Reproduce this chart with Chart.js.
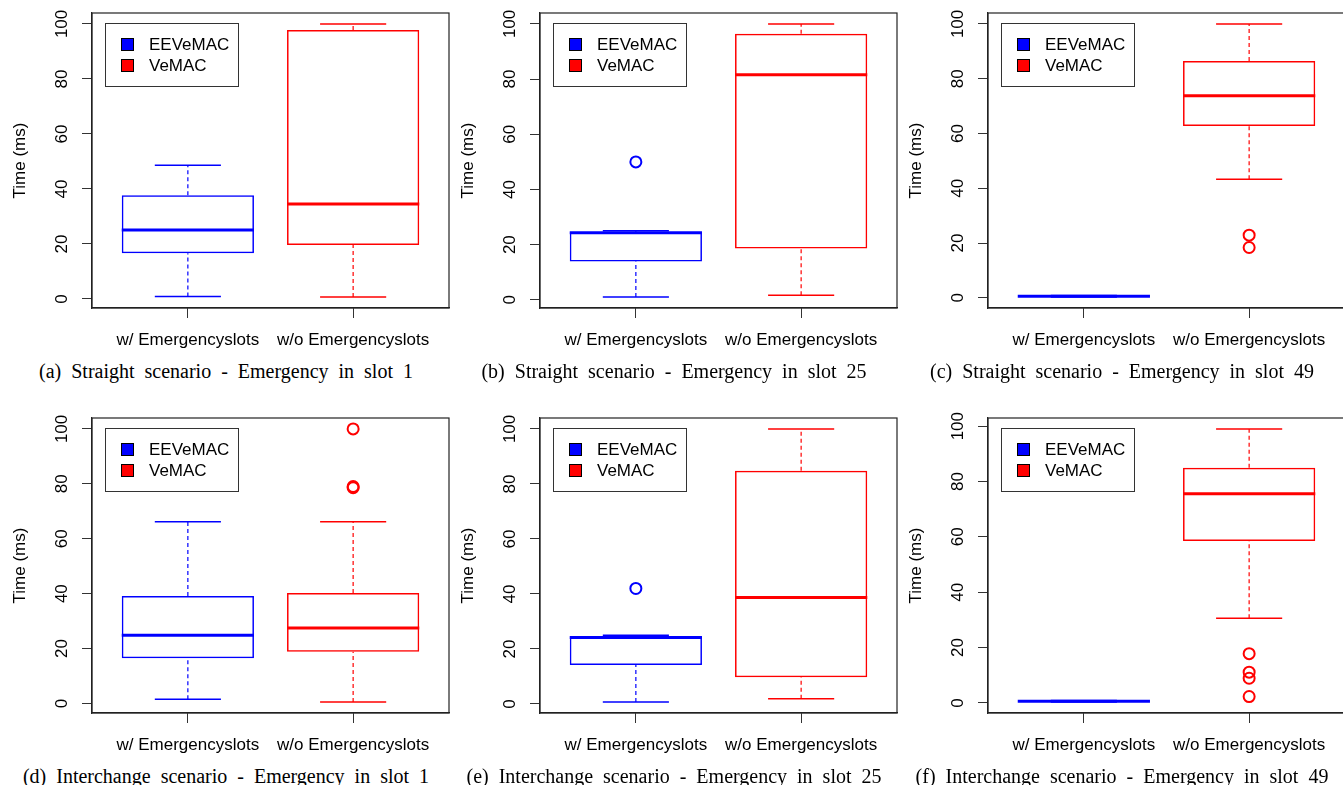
<!DOCTYPE html>
<html>
<head>
<meta charset="utf-8">
<script src="https://cdn.jsdelivr.net/npm/chart.js@4.4.1/dist/chart.umd.min.js"></script>
<style>
body { margin: 0; background: #fff; width: 1343px; height: 785px; overflow: hidden; position: relative; }
.cell { position: absolute; width: 452px; height: 405px; }
.cell canvas { display: block; }
.cap { font-family: "Liberation Serif", "Times New Roman", serif; font-size: 20px; word-spacing: 5px;
       line-height: 32px; text-align: center; white-space: nowrap; color: #000; }
</style>
</head>
<body>
<div class="cell" style="left:0;top:0"><canvas id="c0" width="450" height="355"></canvas><div class="cap" id="cap0"></div></div>
<div class="cell" style="left:448px;top:0"><canvas id="c1" width="450" height="355"></canvas><div class="cap" id="cap1"></div></div>
<div class="cell" style="left:896px;top:0"><canvas id="c2" width="450" height="355"></canvas><div class="cap" id="cap2"></div></div>
<div class="cell" style="left:0;top:405px"><canvas id="c3" width="450" height="355"></canvas><div class="cap" id="cap3"></div></div>
<div class="cell" style="left:448px;top:405px"><canvas id="c4" width="450" height="355"></canvas><div class="cap" id="cap4"></div></div>
<div class="cell" style="left:896px;top:405px"><canvas id="c5" width="450" height="355"></canvas><div class="cap" id="cap5"></div></div>
<script>
const groups = ['w/ Emergencyslots', 'w/o Emergencyslots'];
const seriesNames = ['EEVeMAC', 'VeMAC'];
const seriesColors = ['#0000ff', '#ff0000'];
const yTicks = [0, 20, 40, 60, 80, 100];
const captions = [
  '(a) Straight scenario - Emergency in slot 1',
  '(b) Straight scenario - Emergency in slot 25',
  '(c) Straight scenario - Emergency in slot 49',
  '(d) Interchange scenario - Emergency in slot 1',
  '(e) Interchange scenario - Emergency in slot 25',
  '(f) Interchange scenario - Emergency in slot 49'
];

// [lower whisker, Q1, median, Q3, upper whisker] for each panel
const eeStats = [
  [0.9, 16.6, 25.1, 37.7, 48.6],
  [1.0, 13.9, 24.3, 24.6, 25.0],
  [0.3, 0.5, 0.6, 0.7, 0.9],
  [1.5, 16.5, 24.8, 39.1, 66.2],
  [0.7, 14.2, 24.2, 24.6, 25.0],
  [0.3, 0.5, 0.6, 0.7, 0.9]
];
const veStats = [
  [0.7, 19.6, 34.5, 97.8, 100],
  [1.7, 18.6, 81.6, 96.4, 100],
  [43.3, 62.7, 73.8, 86.5, 100],
  [0.5, 18.8, 27.5, 40.2, 66.2],
  [1.9, 9.7, 38.7, 84.8, 100],
  [30.6, 58.5, 75.6, 85.0, 99.0]
];
const eeOutliers = [[], [50], [], [], [42], []];
const veOutliers = [[], [], [22.9, 18.4], [100, 79.0, 78.6], [], [17.8, 11.1, 8.9, 2.3]];

Chart.defaults.font.family = '"Liberation Sans", Arial, sans-serif';
Chart.defaults.font.size = 17;
Chart.defaults.color = '#000';

const BOX_W = 0.8, CAP_W = 0.4;

function lineSet(color, pts, width, dash) {
  return { type: 'line', data: pts, borderColor: color, borderWidth: width, borderDash: dash || [],
           pointRadius: 0, fill: false, borderCapStyle: 'butt' };
}

// whiskers, caps, median and outliers for one box
function boxParts(pos, s, out, color) {
  const [lo, q1, med, q3, hi] = s;
  return [
    lineSet(color, [{x: pos - BOX_W / 2, y: med}, {x: pos + BOX_W / 2, y: med}], 3),
    lineSet(color, [{x: pos, y: q3}, {x: pos, y: hi}], 1.2, [4, 3]),
    lineSet(color, [{x: pos, y: lo}, {x: pos, y: q1}], 1.2, [4, 3]),
    lineSet(color, [{x: pos - CAP_W / 2, y: hi}, {x: pos + CAP_W / 2, y: hi}], 1.5),
    lineSet(color, [{x: pos - CAP_W / 2, y: lo}, {x: pos + CAP_W / 2, y: lo}], 1.5),
    { type: 'scatter', data: out.map(v => ({x: pos, y: v})), borderColor: color,
      backgroundColor: 'rgba(0,0,0,0)', borderWidth: 2, pointRadius: 5.5, pointStyle: 'circle', showLine: false }
  ];
}

const frame = {
  id: 'frame',
  afterDraw(chart) {
    const {ctx, chartArea: a} = chart;
    ctx.save();
    ctx.strokeStyle = '#222';
    ctx.lineWidth = 1.2;
    ctx.strokeRect(a.left, a.top, a.right - a.left, a.bottom - a.top);
    ctx.restore();
  }
};

const boxLegend = {
  id: 'boxLegend',
  afterDraw(chart) {
    const {ctx, chartArea: a} = chart;
    const x = Math.round(a.left) + 13, y = Math.round(a.top) + 10;
    ctx.save();
    ctx.strokeStyle = '#333';
    ctx.lineWidth = 1;
    ctx.strokeRect(x + 0.5, y + 0.5, 133, 63);
    ctx.font = '17px "Liberation Sans", Arial, sans-serif';
    ctx.textBaseline = 'middle';
    seriesNames.forEach((name, i) => {
      const cy = y + 21 + i * 21;
      ctx.fillStyle = seriesColors[i];
      ctx.fillRect(x + 16, cy - 6, 13, 13);
      ctx.strokeStyle = '#000';
      ctx.strokeRect(x + 16.5, cy - 5.5, 12, 12);
      ctx.fillStyle = '#000';
      ctx.fillText(name, x + 44, cy + 1);
    });
    ctx.restore();
  }
};

function makePanel(i) {
  const ee = eeStats[i], ve = veStats[i];
  const all = ee.concat(ve, eeOutliers[i], veOutliers[i]);
  const lo = Math.min(...all), hi = Math.max(...all);
  const pad = (hi - lo) * 0.04;

  const datasets = [
    { type: 'bar', data: [{x: 1, y: [ee[1], ee[3]]}, {x: 2, y: [ve[1], ve[3]]}],
      backgroundColor: 'rgba(255,255,255,0)', borderColor: seriesColors, borderWidth: 1.5,
      borderSkipped: false, categoryPercentage: BOX_W, barPercentage: 1 }
  ].concat(boxParts(1, ee, eeOutliers[i], seriesColors[0]), boxParts(2, ve, veOutliers[i], seriesColors[1]));

  const axisGrid = { display: true, drawOnChartArea: false, drawTicks: true, tickLength: 10,
                     color: '#333', lineWidth: 1, offset: false };

  new Chart(document.getElementById('c' + i), {
    type: 'bar',
    data: { datasets: datasets },
    options: {
      responsive: false,
      animation: false,
      devicePixelRatio: 1,
      events: [],
      layout: { padding: { top: 13, right: 1, left: 0, bottom: 0 }, autoPadding: false },
      plugins: { legend: { display: false }, tooltip: { enabled: false } },
      scales: {
        x: {
          type: 'linear', min: 0.5 - 0.08, max: 2.5 + 0.08, offset: false,
          afterBuildTicks: s => { s.ticks = [1, 2].map(v => ({value: v})); },
          afterFit: s => { s.height = 47; s.paddingLeft = 0; s.paddingRight = 0; },
          ticks: { callback: v => groups[v - 1], padding: 12, maxRotation: 0, autoSkip: false },
          grid: axisGrid,
          border: { display: true, color: '#222', width: 1.2 }
        },
        y: {
          type: 'linear', min: lo - pad, max: hi + pad,
          afterBuildTicks: s => { s.ticks = yTicks.map(v => ({value: v})); },
          afterFit: s => { s.width = 92; s.paddingTop = 0; s.paddingBottom = 0; },
          ticks: { minRotation: 90, maxRotation: 90, crossAlign: 'center', padding: 6 },
          title: { display: true, text: 'Time (ms)', padding: { top: 10, bottom: 0 } },
          grid: axisGrid,
          border: { display: true, color: '#222', width: 1.2 }
        }
      }
    },
    plugins: [frame, boxLegend]
  });
  document.getElementById('cap' + i).textContent = captions[i];
}

for (let i = 0; i < 6; i++) makePanel(i);
</script>
</body>
</html>
